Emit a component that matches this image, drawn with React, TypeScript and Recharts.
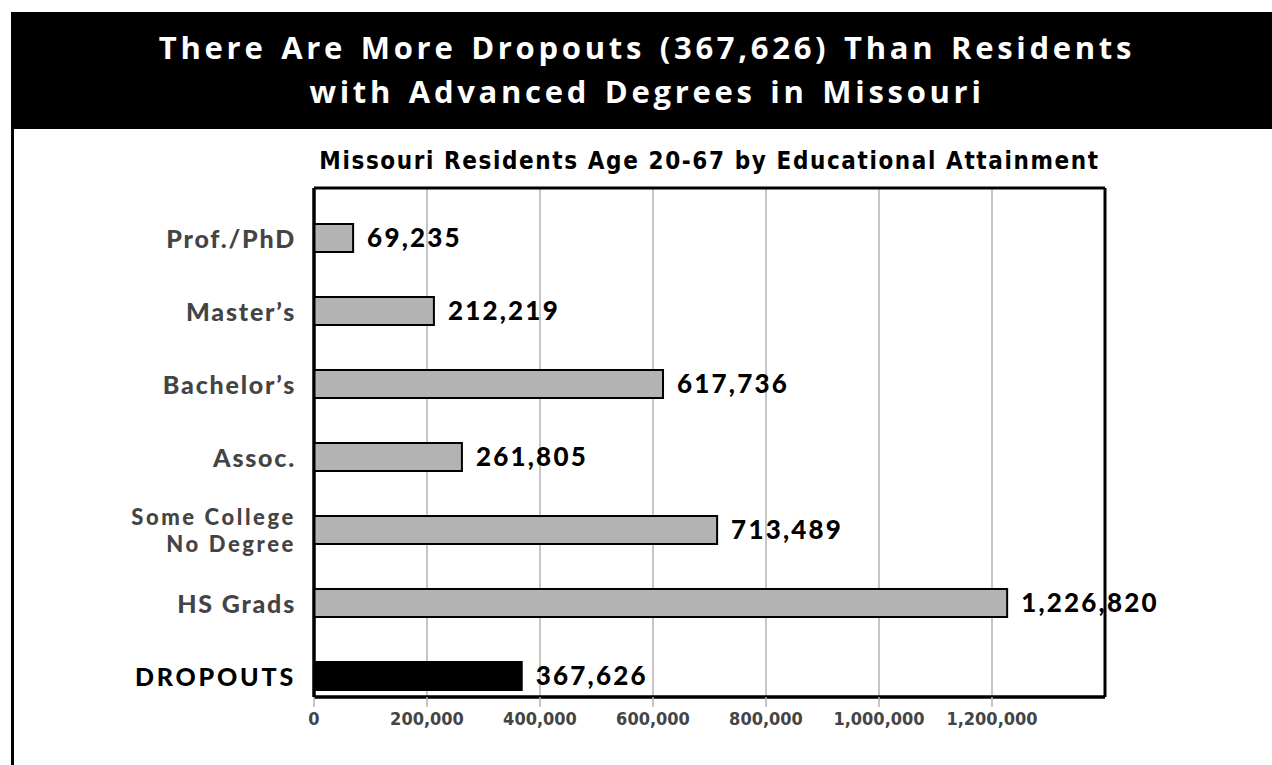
import React from 'react';
import { BarChart, Bar, XAxis, YAxis, CartesianGrid, Cell, LabelList } from 'recharts';

const categories = ['Prof./PhD', "Master\u2019s", "Bachelor\u2019s", 'Assoc.', 'Some College\nNo Degree', 'HS Grads', 'DROPOUTS'];
const values = [69235, 212219, 617736, 261805, 713489, 1226820, 367626];
const xTicks = [0, 200000, 400000, 600000, 800000, 1000000, 1200000];
const highlight = 'DROPOUTS';

const titleLines = ['There Are More Dropouts (367,626) Than Residents', 'with Advanced Degrees in Missouri'];
const subtitle = 'Missouri Residents Age 20-67 by Educational Attainment';

const rows = categories.map((name, i) => ({ name, value: values[i] }));
const fmt = (v: number) => v.toLocaleString('en-US');

const condensed = "'DejaVu Sans Condensed', 'DejaVu Sans', sans-serif";
const labelFont = "Lato, 'Open Sans', sans-serif";

const CatTick = (props: any) => {
  const { x, y, payload } = props;
  const label: string = payload.value;
  const lines = label.split('\n');
  const isHi = label === highlight;
  const multi = lines.length > 1;
  const lh = 26.5;
  const startDy = -((lines.length - 1) * lh) / 2;
  return (
    <text
      x={x}
      y={y}
      textAnchor="end"
      dominantBaseline="central"
      fill={isHi ? '#000' : '#444'}
      fontFamily={labelFont}
      fontWeight={900}
      fontSize={multi ? 22 : 25}
      letterSpacing={isHi ? 2.8 : multi ? 2.6 : 1.8}
    >
      {lines.map((l, i) => (
        <tspan key={i} x={x} dy={i === 0 ? startDy : lh}>
          {l}
        </tspan>
      ))}
    </text>
  );
};

const frameH = ({ offset }: any) => [offset.top, offset.top + offset.height];
const frameV = ({ offset }: any) => [offset.left, offset.left + offset.width];

export default function App() {
  return (
    <div style={{ position: 'absolute', left: 0, top: 0, width: 1272, height: 765, background: '#fff', overflow: 'hidden' }}>
      <div style={{ position: 'absolute', left: 11, top: 12, width: 1272, height: 117, background: '#000' }} />
      <div style={{ position: 'absolute', left: 11, top: 129, width: 3, height: 640, background: '#000' }} />
      <div
        style={{
          position: 'absolute',
          left: 11,
          top: 25,
          width: 1272,
          textAlign: 'center',
          color: '#fff',
          fontFamily: "'Open Sans', sans-serif",
          fontWeight: 700,
          fontSize: 31,
          lineHeight: '44px',
          letterSpacing: 3.7,
          wordSpacing: 3,
        }}
      >
        {titleLines.map((t, i) => (
          <div key={i}>{t}</div>
        ))}
      </div>
      <div
        style={{
          position: 'absolute',
          left: 314,
          top: 146,
          width: 791,
          textAlign: 'center',
          color: '#000',
          fontFamily: condensed,
          fontWeight: 700,
          fontSize: 24,
          lineHeight: '30px',
          letterSpacing: 1.6,
          whiteSpace: 'nowrap',
        }}
      >
        {subtitle}
      </div>
      <div style={{ position: 'absolute', left: 0, top: 0 }}>
        <BarChart
          width={1272}
          height={765}
          data={rows}
          layout="vertical"
          margin={{ top: 188, right: 167, bottom: 28, left: 14 }}
          barSize={28}
        >
          <CartesianGrid horizontal={false} stroke="#b3b3b3" strokeWidth={1.5} />
          <CartesianGrid
            horizontalCoordinatesGenerator={frameH}
            verticalCoordinatesGenerator={frameV}
            stroke="#000"
            strokeWidth={3}
          />
          <XAxis
            type="number"
            domain={[0, 1400000]}
            ticks={xTicks}
            tickFormatter={fmt}
            height={40}
            tickSize={10}
            tickMargin={5}
            tickLine={{ stroke: '#b3b3b3', strokeWidth: 1.5 }}
            axisLine={{ stroke: '#000', strokeWidth: 3 }}
            tick={{ fill: '#444', fontSize: 18, fontWeight: 700, fontFamily: condensed }}
            interval={0}
          />
          <YAxis
            type="category"
            dataKey="name"
            width={300}
            tickSize={0}
            tickMargin={18}
            tickLine={false}
            axisLine={{ stroke: '#000', strokeWidth: 3 }}
            tick={<CatTick />}
            interval={0}
            padding={{ top: 13, bottom: -15 }}
          />
          <Bar dataKey="value" stroke="#000" strokeWidth={2} isAnimationActive={false}>
            {rows.map((r) => (
              <Cell key={r.name} fill={r.name === highlight ? '#000' : '#b3b3b3'} />
            ))}
            <LabelList
              dataKey="value"
              position="right"
              offset={14}
              formatter={(v: any) => fmt(Number(v))}
              fill="#000"
              fontFamily={labelFont}
              fontWeight={900}
              fontSize={26}
              letterSpacing={2.2}
            />
          </Bar>
        </BarChart>
      </div>
    </div>
  );
}
